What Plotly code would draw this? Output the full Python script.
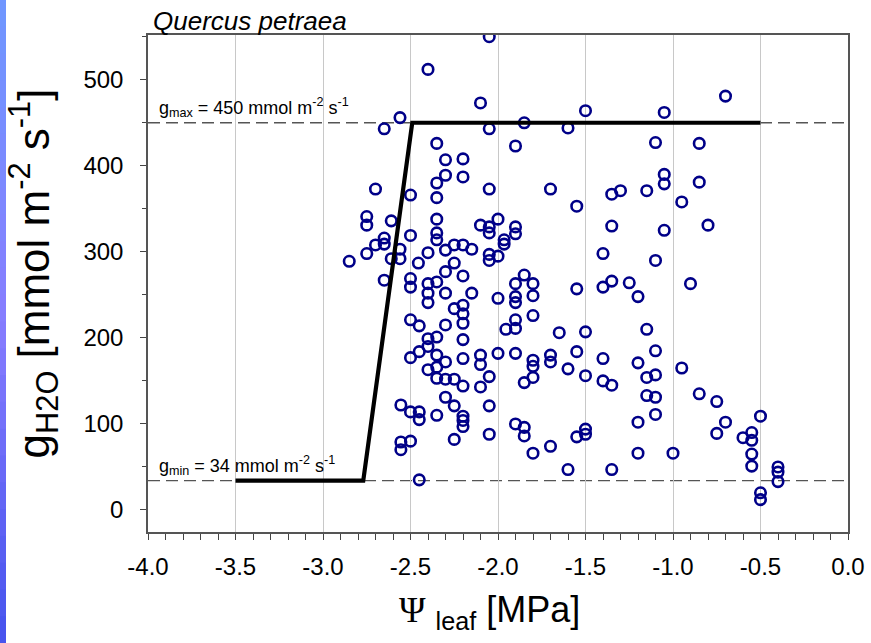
import plotly.graph_objects as go

# ---------------- data ----------------
psi_leaf = [
    -2.65, -2.70, -2.75, -2.75, -2.61, -2.65, -2.65, -2.70, -2.75, -2.85,
    -2.61, -2.65, -2.56, -2.56, -2.56, -2.40, -2.05, -2.10, -2.05, -1.85,
    -2.35, -1.90, -2.30, -2.20, -2.30, -2.20, -2.35, -2.05, -1.70, -2.50,
    -2.35, -2.35, -2.10, -2.05, -2.05, -2.00, -1.90, -1.90, -1.965, -1.965,
    -2.35, -2.35, -2.50, -2.40, -2.30, -2.25, -2.20, -2.15, -2.455, -2.25,
    -2.30, -2.20, -2.05, -2.05, -2.00, -2.50, -2.50, -2.40, -2.35, -2.40,
    -2.30, -2.15, -1.85, -1.90, -1.80, -2.00, -1.90, -1.80, -2.40, -1.90,
    -2.25, -2.20, -2.20, -2.20, -2.50, -2.45, -2.30, -1.90, -1.90, -1.955,
    -1.80, -1.65, -2.40, -2.35, -2.20, -2.45, -2.50, -2.40, -2.35, -2.30,
    -2.35, -2.40, -2.35, -2.30, -2.25, -2.20, -2.20, -2.10, -2.10, -2.00,
    -1.90, -1.80, -1.80, -1.70, -1.70, -2.05, -2.10, -1.80, -1.85, -2.30,
    -2.25, -2.555, -2.50, -2.45, -2.45, -2.35, -2.20, -2.20, -2.20, -2.05,
    -2.05, -2.25, -2.555, -2.555, -2.50, -1.90, -1.85, -1.85, -1.80, -1.70,
    -2.45,
    -0.70, -1.50, -1.05, -1.60, -1.10, -0.85, -1.05, -1.05, -0.85, -1.35,
    -1.30, -1.15, -1.55, -0.95, -1.35, -1.05, -0.80, -1.40, -1.10, -1.55,
    -1.40, -1.35, -1.25, -0.90, -1.20, -1.50, -1.15, -1.10, -1.55, -1.40,
    -1.20, -1.60, -1.50, -1.15, -1.10, -1.40, -1.35, -0.95, -1.15, -1.10,
    -1.10, -0.85, -0.75, -1.20, -1.50, -1.50, -1.55, -1.60, -1.35, -1.20,
    -1.00, -0.70, -0.75, -0.50, -0.60, -0.55, -0.55, -0.55, -0.55, -0.40,
    -0.40, -0.40, -0.50, -0.50,
]
g_h2o = [
    443, 373, 341, 331, 336, 316, 309, 308, 298, 289,
    292, 267, 303, 292, 456, 512, 550, 473, 443, 450,
    426, 423, 407, 408, 389, 387, 380, 373, 373, 366,
    363, 338, 331, 329, 322, 338, 329, 321, 314, 309,
    322, 314, 319, 299, 302, 308, 308, 303, 287, 287,
    277, 272, 297, 290, 295, 269, 259, 263, 265, 252,
    252, 252, 273, 263, 263, 246, 248, 249, 241, 241,
    234, 238, 228, 217, 221, 214, 215, 221, 211, 210,
    226, 206, 199, 201, 198, 184, 177, 190, 180, 172,
    166, 163, 153, 152, 152, 144, 176, 180, 169, 182,
    182, 174, 167, 180, 172, 155, 143, 154, 148, 131,
    121, 122, 114, 114, 105, 110, 109, 104, 97, 121,
    88, 82, 79, 70, 80, 100, 96, 86, 66, 74,
    35,
    481, 464, 462, 444, 427, 426, 390, 379, 381, 367,
    371, 371, 353, 358, 330, 325, 331, 298, 290, 257,
    259, 266, 264, 263, 248, 207, 210, 185, 184, 176,
    171, 164, 156, 154, 157, 150, 145, 165, 133, 131,
    111, 135, 126, 102, 94, 88, 85, 47, 47, 66,
    66, 102, 89, 109, 84, 90, 81, 65, 51, 50,
    44, 33, 20, 12,
]

g_max = 450
g_min = 34
model_psi = [-3.5, -2.77, -2.49, -0.5]
model_g = [g_min, g_min, g_max, g_max]

x_ticks = [-4.0, -3.5, -3.0, -2.5, -2.0, -1.5, -1.0, -0.5, 0.0]
y_ticks = [0, 100, 200, 300, 400, 500]

# ---------------- figure ----------------
FONT = "Liberation Sans, Arial, sans-serif"
fig = go.Figure()

fig.add_trace(go.Scatter(
    x=psi_leaf, y=g_h2o, mode="markers",
    marker=dict(symbol="circle-open", size=10.5, color="#000088",
                line=dict(width=2.6, color="#000088")),
    showlegend=False, hoverinfo="x+y",
))
fig.add_trace(go.Scatter(
    x=model_psi, y=model_g, mode="lines",
    line=dict(color="black", width=4.2),
    showlegend=False, hoverinfo="skip",
))

# dashed reference lines
for gv in (g_max, g_min):
    fig.add_shape(type="line", xref="paper", x0=0, x1=1, yref="y", y0=gv, y1=gv,
                  line=dict(color="#555555", width=1.3, dash="12px,6px"), layer="below")

# left gradient strip
n = 24
top = (112, 150, 255)
mid = (135, 125, 255)
bot = (72, 84, 238)
ybot, ytop = -111 / 497, 1 + 35 / 497
for i in range(n):
    t = i / (n - 1)
    if t < 0.5:
        a, b, s = bot, mid, t / 0.5
    else:
        a, b, s = mid, top, (t - 0.5) / 0.5
    c = tuple(int(round(a[k] + (b[k] - a[k]) * s)) for k in range(3))
    y0 = ybot + (ytop - ybot) * i / n
    y1 = ybot + (ytop - ybot) * (i + 1) / n
    fig.add_shape(type="rect", xref="paper", yref="paper",
                  x0=-148 / 700, x1=-142 / 700, y0=y0, y1=y1 + 0.002,
                  line=dict(width=0), fillcolor="rgb(%d,%d,%d)" % c, layer="above")

ann_font = dict(family=FONT, size=18, color="black")
fig.add_annotation(x=0, xref="paper", y=g_max, yref="y", xanchor="left", yanchor="bottom",
                   xshift=9, yshift=1, showarrow=False, font=ann_font,
                   text="g<sub>max</sub> = 450 mmol m<sup>-2</sup> s<sup>-1</sup>")
fig.add_annotation(x=0, xref="paper", y=g_min, yref="y", xanchor="left", yanchor="bottom",
                   xshift=9, yshift=1, showarrow=False, font=ann_font,
                   text="g<sub>min</sub> = 34 mmol m<sup>-2</sup> s<sup>-1</sup>")

# title
fig.add_annotation(x=0.004, xref="paper", y=1, yref="paper", xanchor="left", yanchor="bottom",
                   yshift=-3, showarrow=False,
                   font=dict(family=FONT, size=26, color="black"),
                   text="<i>Quercus petraea</i>")

# axis titles
fig.add_annotation(x=-0.163, xref="paper", y=0.52, yref="paper", xanchor="center", yanchor="middle",
                   textangle=-90, showarrow=False,
                   font=dict(family=FONT, size=44, color="black"),
                   text="g<sub>H2O</sub> [mmol m<sup>-2</sup> s<sup>-1</sup>]")
fig.add_annotation(x=0.488, xref="paper", y=-0.16, yref="paper", xanchor="center", yanchor="middle",
                   showarrow=False,
                   font=dict(family=FONT, size=36, color="black"),
                   text="<span style=\"font-family:'Liberation Serif'\">Ψ</span> <sub>leaf</sub> [MPa]")

fig.update_layout(
    width=871, height=643,
    margin=dict(l=148, r=23, t=35, b=111, autoexpand=False),
    paper_bgcolor="white", plot_bgcolor="white",
    font=dict(family=FONT, color="black"),
)
fig.update_xaxes(
    range=[-4, 0], tickvals=x_ticks, ticktext=["%.1f" % v for v in x_ticks],
    ticks="outside", ticklen=6, tickwidth=1, tickcolor="#444",
    tickfont=dict(family=FONT, size=24, color="black"), ticklabelstandoff=6,
    showgrid=True, gridcolor="#c8c8c8", gridwidth=1,
    showline=True, linecolor="#555", linewidth=1.5, mirror=True,
    minor=dict(dtick=0.1, ticks="outside", ticklen=6, tickcolor="#444", showgrid=False),
    zeroline=False, automargin=False,
)
fig.update_yaxes(
    range=[-25.6, 552], tickvals=y_ticks,
    ticks="outside", ticklen=6, tickwidth=1, tickcolor="#444",
    tickfont=dict(family=FONT, size=24, color="black"), ticklabelstandoff=12,
    showgrid=False,
    showline=True, linecolor="#555", linewidth=1.5, mirror=True,
    minor=dict(dtick=50, ticks="outside", ticklen=4, tickcolor="#444", showgrid=False),
    zeroline=False, automargin=False,
)

fig.write_html("out.html", config={"displayModeBar": False},
               post_script="document.body.style.margin='0px';")
